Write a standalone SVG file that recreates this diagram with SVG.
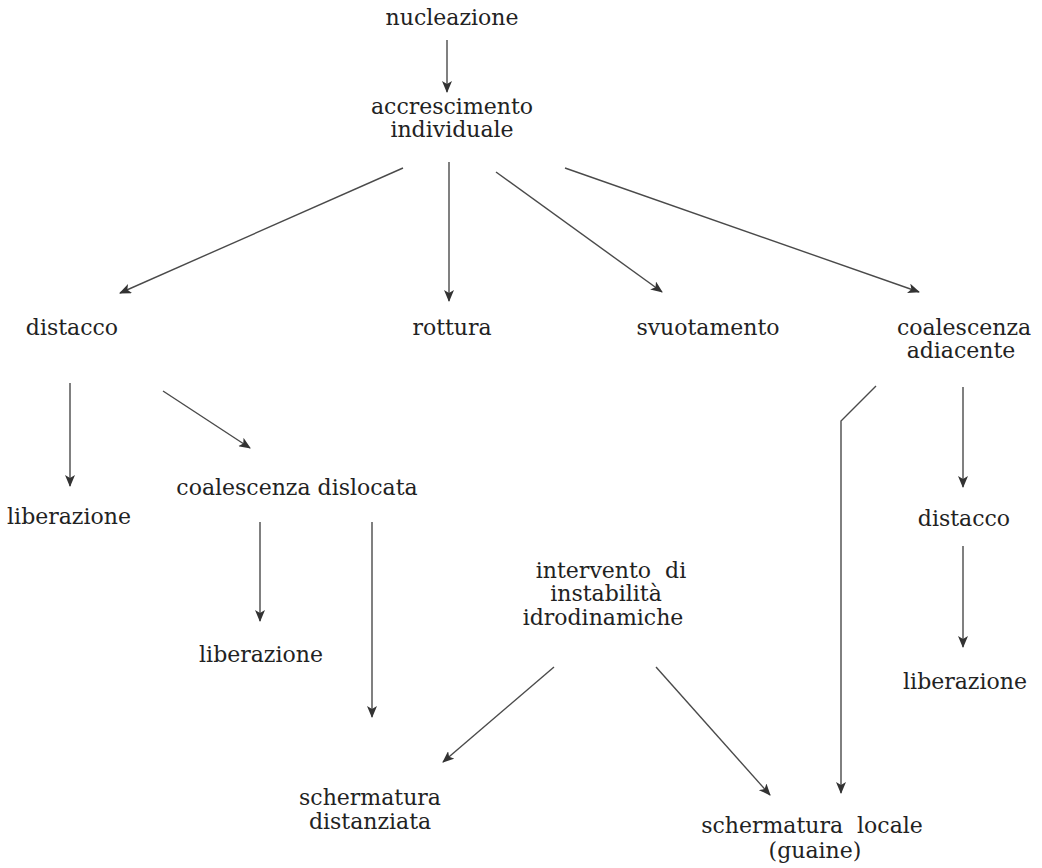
<svg xmlns="http://www.w3.org/2000/svg" width="1042" height="868" viewBox="0 0 1042 868">
<style>
text{font-family:"DejaVu Serif","Liberation Serif",serif;font-size:22px;fill:#222;text-anchor:middle}
.c line,.c polyline{stroke:#4a4a4a;stroke-width:1.4;fill:none}
.a{marker-end:url(#ah)}
</style>
<defs>
<marker id="ah" viewBox="0 0 12 10" refX="11" refY="5" markerWidth="12" markerHeight="10" markerUnits="userSpaceOnUse" orient="auto">
<path d="M0,0 L12,5 L0,10 L3,5 z" fill="#333"/>
</marker>
</defs>
<rect width="1042" height="868" fill="#fff"/>
<g id="n_nucleazione"><text x="452" y="25">nucleazione</text></g>
<g id="n_accrescimento"><text x="452" y="114">accrescimento</text><text x="452" y="137">individuale</text></g>
<g id="n_distacco1"><text x="72" y="335">distacco</text></g>
<g id="n_rottura"><text x="452" y="335">rottura</text></g>
<g id="n_svuotamento"><text x="708" y="335">svuotamento</text></g>
<g id="n_coal_adiac"><text x="964" y="335">coalescenza</text><text x="961" y="358">adiacente</text></g>
<g id="n_liberazione1"><text x="69" y="524">liberazione</text></g>
<g id="n_coal_disl"><text x="297" y="495">coalescenza dislocata</text></g>
<g id="n_distacco2"><text x="964" y="526">distacco</text></g>
<g id="n_liberazione2"><text x="261" y="662">liberazione</text></g>
<g id="n_intervento"><text x="611" y="578" xml:space="preserve">intervento  di</text><text x="606" y="601">instabilità</text><text x="603" y="625">idrodinamiche</text></g>
<g id="n_liberazione3"><text x="965" y="689">liberazione</text></g>
<g id="n_scherm_dist"><text x="370" y="805">schermatura</text><text x="370" y="829">distanziata</text></g>
<g id="n_scherm_loc"><text x="812" y="833" xml:space="preserve">schermatura  locale</text><text x="815" y="858">(guaine)</text></g>
<g id="connectors" class="c">
<line class="a" x1="447" y1="40" x2="447" y2="92"/>
<line class="a" x1="403" y1="168" x2="120" y2="293"/>
<line class="a" x1="449" y1="162" x2="449" y2="301"/>
<line class="a" x1="496" y1="172" x2="662" y2="292"/>
<line class="a" x1="565" y1="168" x2="919" y2="292"/>
<line class="a" x1="70" y1="383" x2="70" y2="486"/>
<line class="a" x1="163" y1="391" x2="250" y2="448"/>
<line class="a" x1="260" y1="522" x2="260" y2="621"/>
<line class="a" x1="372" y1="522" x2="372" y2="717"/>
<line class="a" x1="554" y1="667" x2="443" y2="762"/>
<line class="a" x1="656" y1="667" x2="770" y2="795"/>
<polyline class="a" points="876,386 841,421 841,793"/>
<line class="a" x1="963" y1="387" x2="963" y2="487"/>
<line class="a" x1="963" y1="546" x2="963" y2="647"/>
</g>
</svg>
